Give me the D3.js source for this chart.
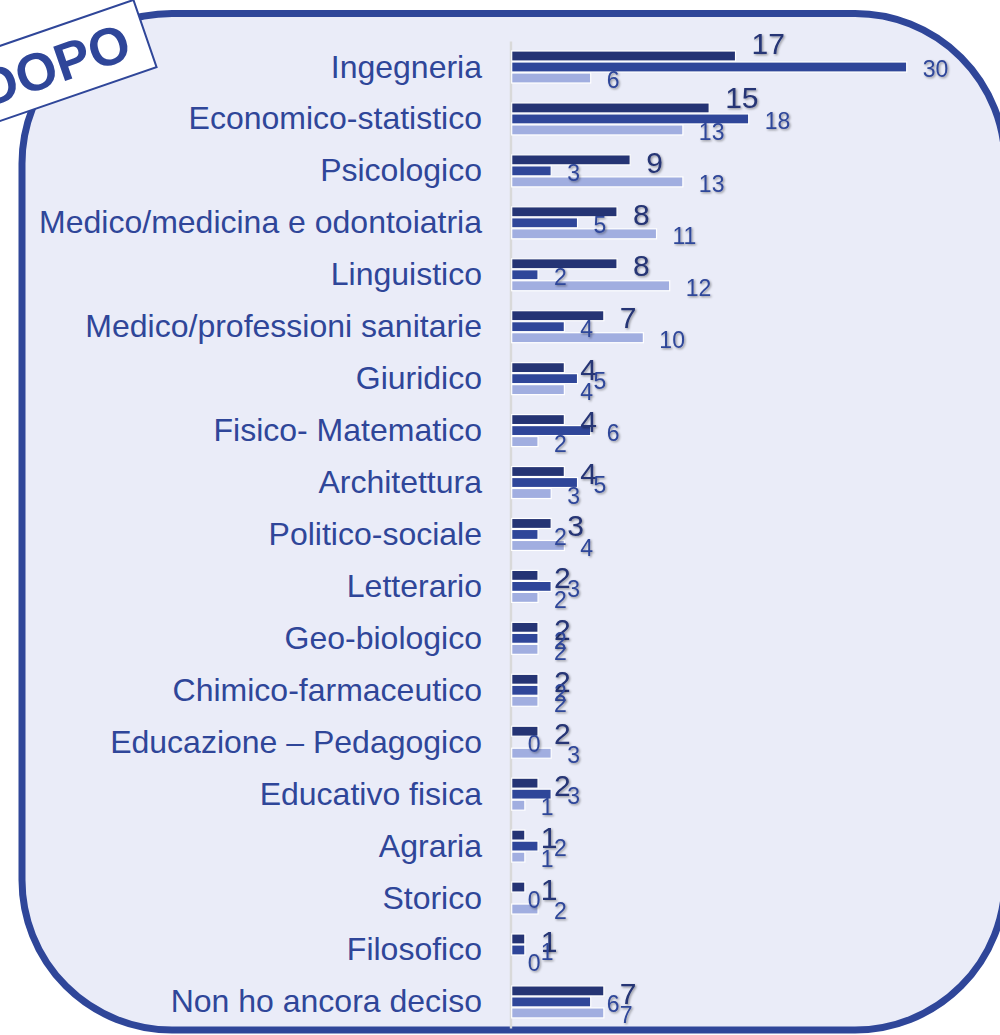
<!DOCTYPE html>
<html>
<head>
<meta charset="utf-8">
<script src="https://cdn.jsdelivr.net/npm/d3@7"></script>
<style>
  html, body { margin: 0; padding: 0; background: #ffffff; }
  svg { display: block; }
  text { font-family: "Liberation Sans", Arial, sans-serif; }
</style>
</head>
<body>
<svg id="chart" width="1000" height="1035"></svg>
<script>
// ---- Data ----
const categories = [
  "Ingegneria",
  "Economico-statistico",
  "Psicologico",
  "Medico/medicina e odontoiatria",
  "Linguistico",
  "Medico/professioni sanitarie",
  "Giuridico",
  "Fisico- Matematico",
  "Architettura",
  "Politico-sociale",
  "Letterario",
  "Geo-biologico",
  "Chimico-farmaceutico",
  "Educazione – Pedagogico",
  "Educativo fisica",
  "Agraria",
  "Storico",
  "Filosofico",
  "Non ho ancora deciso"
];
const series1 = [17, 15, 9, 8, 8, 7, 4, 4, 4, 3, 2, 2, 2, 2, 2, 1, 1, 1, 7];
const series2 = [30, 18, 3, 5, 2, 4, 5, 6, 5, 2, 3, 2, 2, 0, 3, 2, 0, 1, 6];
const series3 = [6, 13, 13, 11, 12, 10, 4, 2, 3, 4, 2, 2, 2, 3, 1, 1, 2, 0, 7];
const seriesKeys = ["s1", "s2", "s3"];
const badgeText = "DOPO";

// ---- Styles ----
const colors = { s1: "#253474", s2: "#2F4699", s3: "#A1AEE0" };
const labelColors = { s1: "#253474", s2: "#2F4699", s3: "#2F4699" };
const labelSizes = { s1: 30, s2: 23, s3: 23 };
const bgFill = "#EAECF8";
const frameColor = "#2F4699";
// manual nudges of the first-series labels (moved in the original)
const labelNudge = { "Ingegneria": -15, "Economico-statistico": -13 };

const svg = d3.select("#chart");

const defs = svg.append("defs");
const f = defs.append("filter").attr("id", "shadow")
  .attr("x", "-20%").attr("y", "-20%").attr("width", "140%").attr("height", "140%");
f.append("feDropShadow").attr("dx", 1.2).attr("dy", 1.2)
  .attr("stdDeviation", 0.8).attr("flood-color", "#000").attr("flood-opacity", 0.4);

// ---- Frame ----
svg.append("rect")
  .attr("x", 22).attr("y", 13.5)
  .attr("width", 983).attr("height", 1016.5)
  .attr("rx", 150).attr("ry", 150)
  .attr("fill", bgFill)
  .attr("stroke", frameColor)
  .attr("stroke-width", 7);

// ---- Scales ----
const step = 51.94;
const y = d3.scaleBand()
  .domain(categories)
  .range([67 - step / 2, 67 - step / 2 + step * categories.length])
  .padding(0);
const ySub = d3.scaleBand()
  .domain(seriesKeys)
  .range([y.bandwidth() / 2 - 16.5, y.bandwidth() / 2 + 16.5])
  .padding(0);
const x = d3.scaleLinear().domain([0, 30]).range([511.7, 906.7]);

// ---- Axis line ----
const yAxis = d3.axisLeft(y).tickSize(0).tickFormat("");
const axisG = svg.append("g").attr("transform", "translate(510.5,0)").call(yAxis);
axisG.select(".domain").attr("stroke", "#D9D9D9").attr("stroke-width", 2.4);

// ---- Category labels ----
svg.append("g").selectAll("text")
  .data(categories)
  .join("text")
  .attr("x", 482)
  .attr("y", d => y(d) + y.bandwidth() / 2 + 10.5)
  .attr("text-anchor", "end")
  .attr("font-size", 32)
  .attr("fill", "#2F4699")
  .text(d => d);

// ---- Bars ----
const rows = categories.map((c, i) => ({
  cat: c,
  vals: [
    { key: "s1", v: series1[i] },
    { key: "s2", v: series2[i] },
    { key: "s3", v: series3[i] }
  ]
}));

const groups = svg.append("g").selectAll("g")
  .data(rows)
  .join("g")
  .attr("transform", d => `translate(0,${y(d.cat)})`);

groups.selectAll("rect")
  .data(d => d.vals)
  .join("rect")
  .attr("x", x(0))
  .attr("y", d => ySub(d.key) + 0.5)
  .attr("width", d => Math.max(0, x(d.v) - x(0)))
  .attr("height", ySub.bandwidth() - 1)
  .attr("fill", d => colors[d.key])
  .attr("stroke", d => d.v > 0 ? "#ffffff" : "none")
  .attr("stroke-width", 1.2);

// ---- Value labels ----
groups.each(function(row) {
  const g = d3.select(this);
  g.selectAll("text.val")
    .data(row.vals)
    .join("text")
    .attr("class", "val")
    .attr("x", d => x(d.v) + 16)
    .attr("y", d => {
      const c = ySub(d.key) + ySub.bandwidth() / 2 + 2;
      const base = c + labelSizes[d.key] * 0.358;
      return base + (d.key === "s1" && labelNudge[row.cat] ? labelNudge[row.cat] : 0);
    })
    .attr("font-size", d => labelSizes[d.key])
    .attr("fill", d => labelColors[d.key])
    .attr("filter", "url(#shadow)")
    .text(d => d.v);
});

// ---- DOPO badge ----
const badge = svg.append("g").attr("transform", "translate(145,33.5) rotate(-19)");
badge.append("rect")
  .attr("x", -260).attr("y", -35.5)
  .attr("width", 260).attr("height", 71)
  .attr("fill", "#ffffff")
  .attr("stroke", frameColor)
  .attr("stroke-width", 2);
badge.append("text")
  .attr("x", -18).attr("y", 19)
  .attr("text-anchor", "end")
  .attr("font-size", 53)
  .attr("font-weight", "bold")
  .attr("fill", frameColor)
  .text(badgeText);
</script>
</body>
</html>
